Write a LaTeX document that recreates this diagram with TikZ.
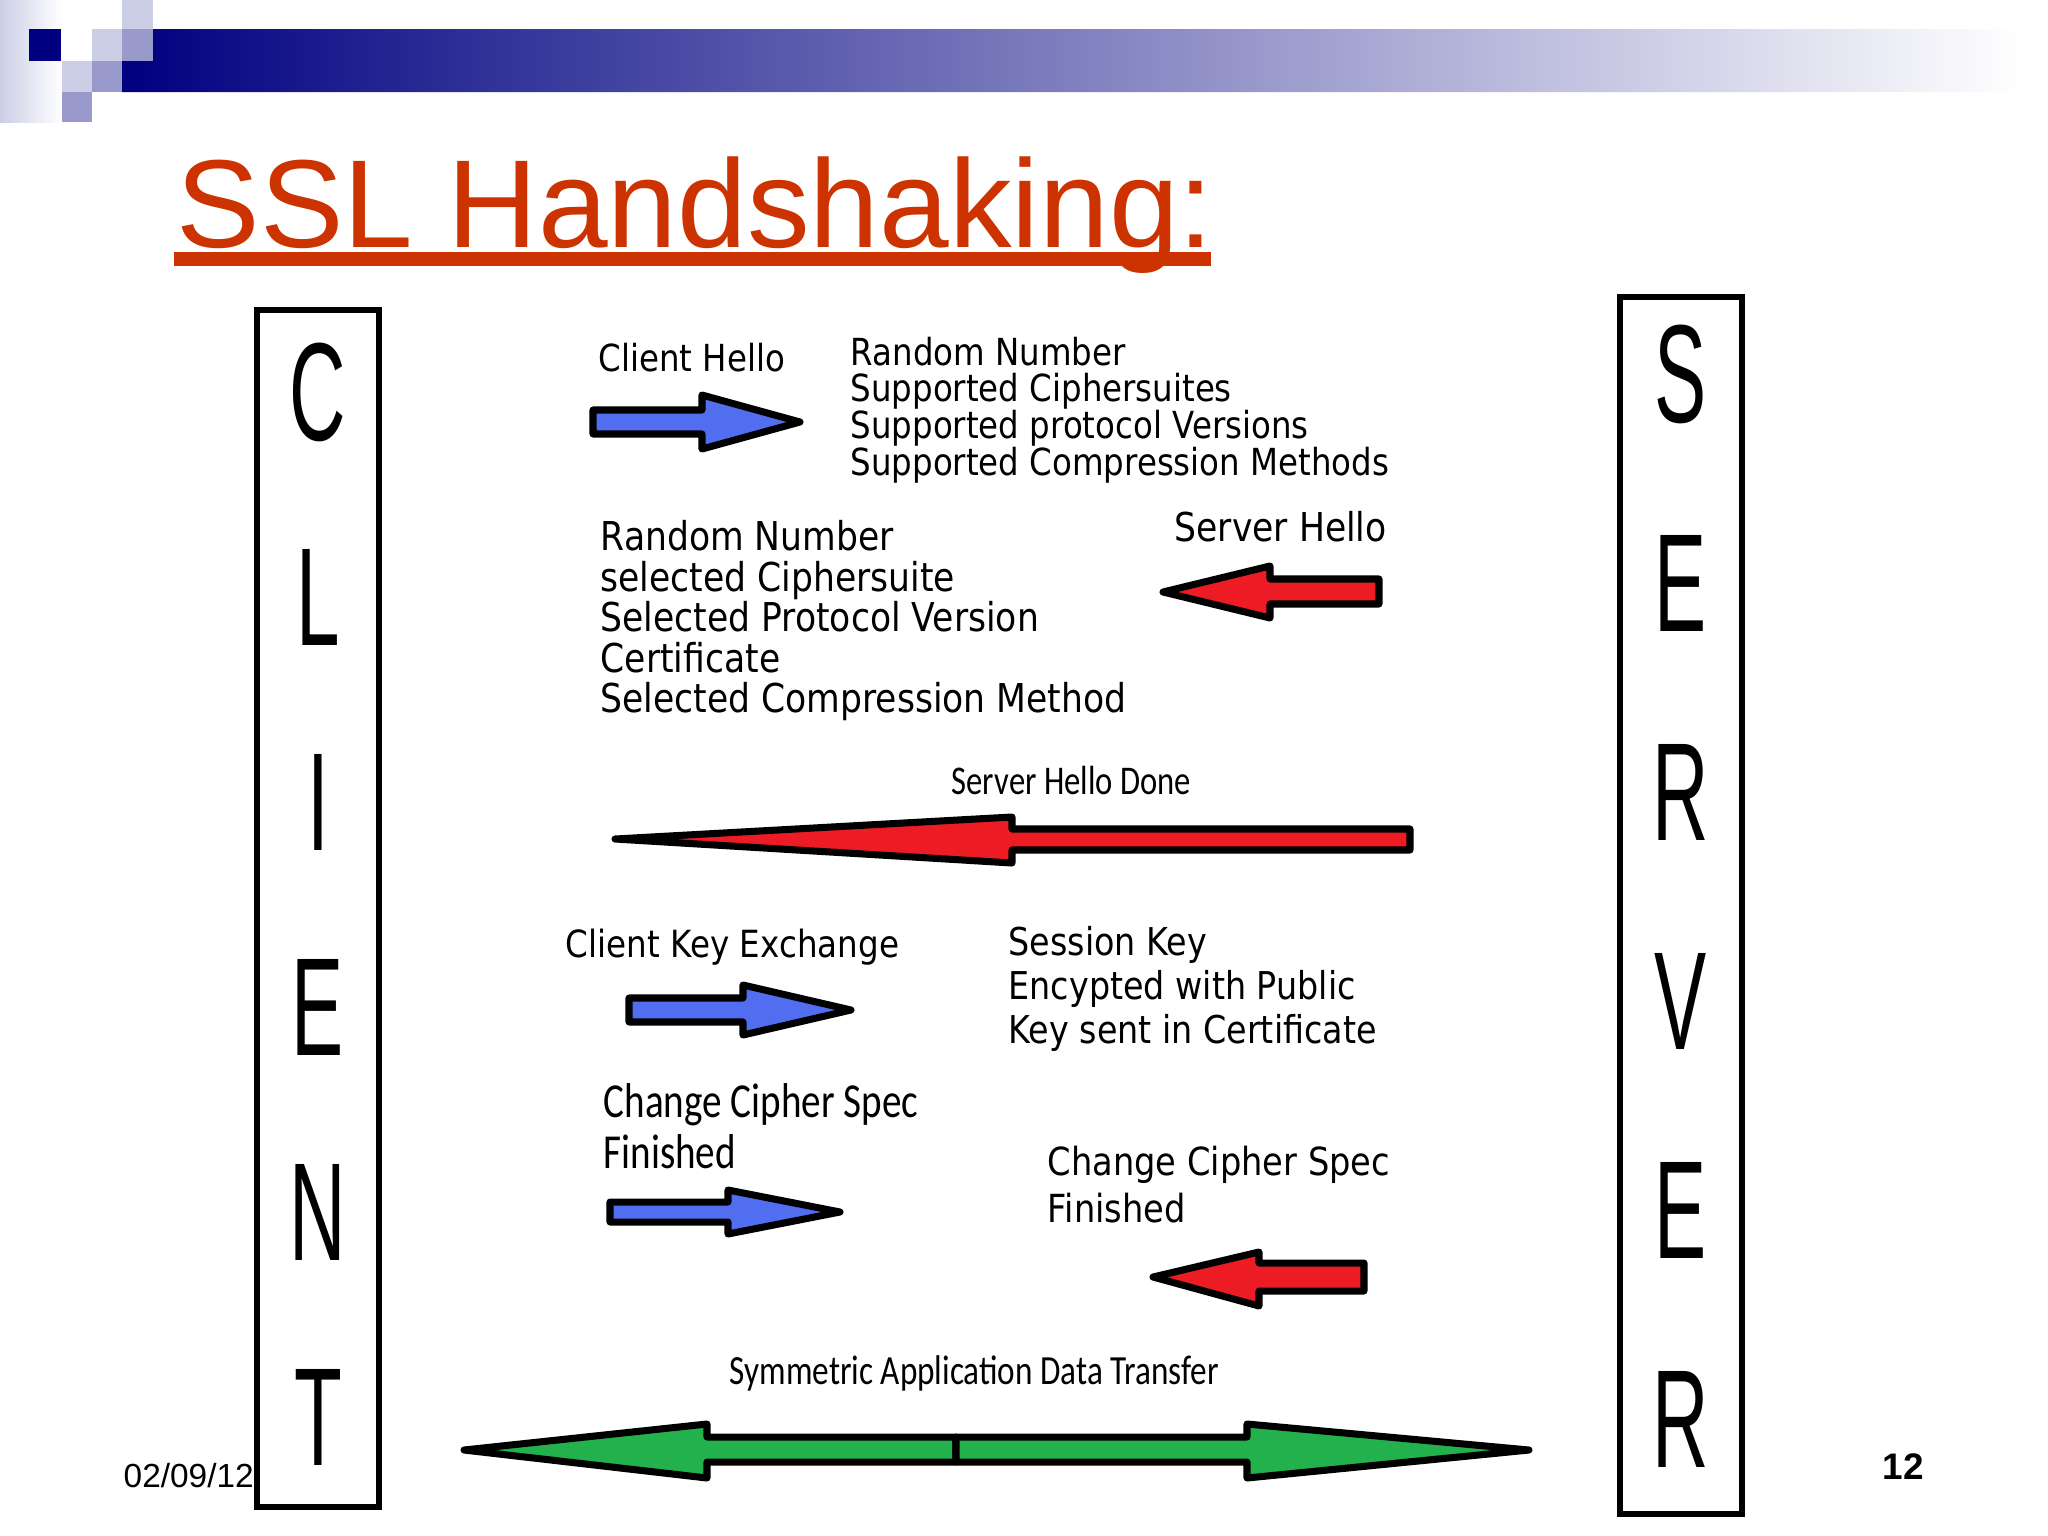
\documentclass[tikz,border=0pt]{standalone}
\usepackage{fontspec}
\setmainfont{Liberation Sans}
\newfontfamily\tahfont[FakeStretch=0.87]{DejaVu Sans}
\newfontfamily\calfont[FakeStretch=0.8]{Carlito}
\newfontfamily\tallfont[FakeStretch=0.56]{Liberation Sans}

\definecolor{navy}{RGB}{0,0,128}
\definecolor{lavlight}{RGB}{204,206,230}
\definecolor{lavmid}{RGB}{153,153,204}
\definecolor{titlered}{RGB}{204,51,0}
\definecolor{paintblue}{RGB}{82,110,240}
\definecolor{paintred}{RGB}{237,28,36}
\definecolor{paintgreen}{RGB}{34,177,76}

\tikzset{
  sidebox/.style={draw=black, line width=1.6pt},
  bigletter/.style={font=\tallfont\fontsize{39.7}{40}\selectfont, inner sep=0pt},
  blockarrow/.style={draw=black, line width=2pt, line join=round},
  msg/.style={font=\tahfont\fontsize{#1}{#1}\selectfont, inner sep=0pt, anchor=base west},
  calmsg/.style={font=\calfont\fontsize{#1}{#1}\selectfont, inner sep=0pt, anchor=base west},
  msgblock/.style 2 args={font=\tahfont\fontsize{#1}{#2}\selectfont, align=left, inner sep=0pt, anchor=north west},
  calblock/.style 2 args={font=\calfont\fontsize{#1}{#2}\selectfont, align=left, inner sep=0pt, anchor=north west}
}

\begin{document}
\begin{tikzpicture}[x=0.01cm, y=-0.01cm]
  \useasboundingbox[fill=white] (0,0) rectangle (2048,1536);

  % header band and squares
  \shade[left color=lavlight, right color=white] (0,0) rectangle (62,122);
  \shade[left color=navy, right color=white] (153,29) -- (2020,29) -- (2020,92) -- (122,92) -- (122,61) -- (153,61) -- cycle;
  \fill[navy] (29,29) rectangle (61,61);
  \fill[lavlight] (122,0) rectangle (153,29);
  \fill[lavlight] (92,29) rectangle (122,61);
  \fill[lavmid] (122,29) rectangle (153,61);
  \fill[lavlight] (62,61) rectangle (92,92);
  \fill[lavmid] (92,61) rectangle (122,92);
  \fill[lavmid] (62,92) rectangle (92,122);

  \node[font=\fontsize{35.6}{40}\selectfont, text=titlered, inner sep=0pt, anchor=base west] (title) at (176,247) {SSL Handshaking:};
  \fill[titlered] (174,252) rectangle (1211,266);

  % client and server columns
  \draw[sidebox] (257,310) rectangle (379,1507);
  \draw[sidebox] (1620,297) rectangle (1742,1514);
  \foreach \ch [count=\i] in {C,L,I,E,N,T}
    \node[bigletter] (cl\i) at (318,{392+205*(\i-1)}) {\ch};
  \foreach \ch [count=\i] in {S,E,R,V,E,R}
    \node[bigletter] (sv\i) at (1681,{374+209*(\i-1)}) {\ch};

  % messages
  \node[msg=10.6] (clienthello) at (598,371) {Client Hello};
  \node[msgblock={10.6}{10.5}] (hellolist) at (850,336) {Random Number\\Supported Ciphersuites\\Supported protocol Versions\\Supported Compression Methods};
  \draw[blockarrow, fill=paintblue] (593,410) -- (702,410) -- (702,395) -- (800,422) -- (702,449) -- (702,434) -- (593,434) -- cycle;

  \node[msg=11.3] (serverhello) at (1174,541) {Server Hello};
  \node[msgblock={11.3}{11.5}] (selectlist) at (600,520) {Random Number\\selected Ciphersuite\\Selected Protocol Version\\Certificate\\Selected Compression Method};
  \draw[blockarrow, fill=paintred] (1163,592) -- (1270,566) -- (1270,579) -- (1379,579) -- (1379,604) -- (1270,604) -- (1270,618) -- cycle;

  \node[calmsg=11.6] (hellodone) at (951,794) {Server Hello Done};
  \draw[blockarrow, fill=paintred] (615,839) -- (1012,817) -- (1012,829) -- (1410,829) -- (1410,850) -- (1012,850) -- (1012,863) -- cycle;

  \node[msg=10.65] (keyexchange) at (565,957) {Client Key Exchange};
  \node[msgblock={10.9}{12.4}] (sessionkey) at (1008,926) {Session Key\\Encypted with Public\\Key sent in Certificate};
  \draw[blockarrow, fill=paintblue] (629,998) -- (743,998) -- (743,985) -- (851,1010) -- (743,1035) -- (743,1022) -- (629,1022) -- cycle;

  \node[calblock={13.9}{14.5}] (clientfinish) at (603,1083) {Change Cipher Spec\\Finished};
  \draw[blockarrow, fill=paintblue] (610,1202) -- (728,1202) -- (728,1190) -- (840,1212) -- (728,1234) -- (728,1222) -- (610,1222) -- cycle;

  \node[msgblock={11}{13.4}] (serverfinish) at (1047,1145) {Change Cipher Spec\\Finished};
  \draw[blockarrow, fill=paintred] (1153,1277) -- (1259,1252) -- (1259,1263) -- (1364,1263) -- (1364,1291) -- (1259,1291) -- (1259,1306) -- cycle;

  \node[calmsg=11.8] (datatransfer) at (729,1384) {Symmetric Application Data Transfer};
  \draw[blockarrow, fill=paintgreen] (464,1450) -- (707,1424) -- (707,1437) -- (956,1437) -- (956,1462) -- (707,1462) -- (707,1478) -- cycle;
  \draw[blockarrow, fill=paintgreen] (956,1437) -- (1247,1437) -- (1247,1424) -- (1529,1450) -- (1247,1478) -- (1247,1462) -- (956,1462) -- cycle;

  % footer
  \node[font=\fontsize{9.5}{10}\selectfont, inner sep=0pt, anchor=base west] (date) at (123,1487) {02/09/12};
  \node[font=\bfseries\fontsize{10.5}{12}\selectfont, inner sep=0pt, anchor=base west] (pagenum) at (1882,1479) {12};
\end{tikzpicture}
\end{document}
